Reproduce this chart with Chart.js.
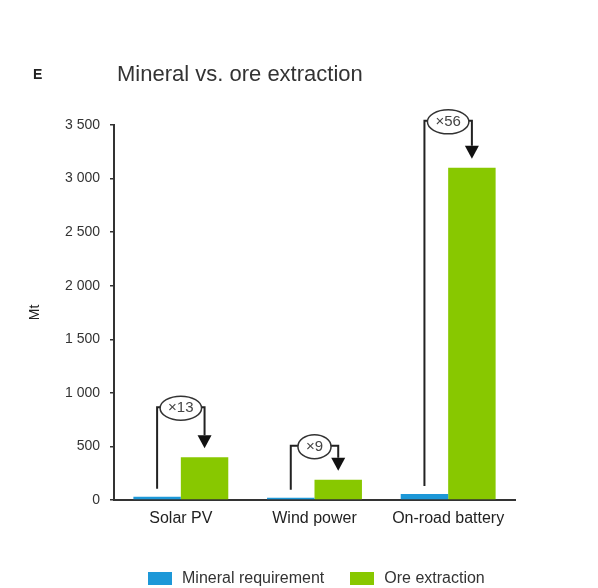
<!DOCTYPE html>
<html lang="en">
<head>
  <meta charset="UTF-8" />
  <title>Mineral vs. ore extraction</title>
  <script src="https://cdn.jsdelivr.net/npm/chart.js"></script>
  <style>
    html, body {
      margin: 0;
      padding: 0;
      background: #fff;
    }
    .wrap {
      position: relative;
      width: 598px;
      height: 588px;
      font-family: "Liberation Sans", Arial, sans-serif;
      color: #222;
    }
    .panel {
      position: absolute;
      left: 33px;
      top: 66px;
      font-size: 14px;
      font-weight: bold;
    }
    .title {
      position: absolute;
      left: 117px;
      top: 61px;
      font-size: 22px;
      color: #333;
    }
    .legend {
      position: absolute;
      top: 569px;
      left: 148px;
      display: flex;
      align-items: center;
      font-size: 16px;
      color: #333;
    }
    .legend span.box {
      display: inline-block;
      width: 24px;
      height: 13px;
      margin-right: 10px;
    }
    .legend .item {
      display: flex;
      align-items: center;
      margin-right: 26px;
    }
    canvas { position: absolute; left: 0; top: 0; }
  </style>
</head>
<body>
  <div class="wrap">
    <canvas id="oreChart" width="598" height="588"></canvas>
    <div class="panel">E</div>
    <div class="title">Mineral vs. ore extraction</div>
    <div class="legend" id="legend"></div>
  </div>
  <script>
    // data (Mt)
    const categories = ['Solar PV', 'Wind power', 'On-road battery'];
    const mineralRequirement = [30, 21, 55];
    const oreExtraction = [400, 190, 3100];
    const multipliers = ['×13', '×9', '×56'];
    const yTicks = [0, 500, 1000, 1500, 2000, 2500, 3000, 3500];

    const seriesNames = ['Mineral requirement', 'Ore extraction'];
    const seriesColors = ['#1d98d8', '#88c800'];

    function fmt(v) {
      if (v < 1000) return String(v);
      return Math.floor(v / 1000) + ' ' + String(v % 1000).padStart(3, '0');
    }

    // bracket + arrow from mineral bar to ore bar
    const bracketPlugin = {
      id: 'brackets',
      afterDatasetsDraw(chart, args, opts) {
        const ctx = chart.ctx;
        const m0 = chart.getDatasetMeta(0).data;
        const m1 = chart.getDatasetMeta(1).data;
        ctx.save();
        ctx.font = '15px "Liberation Sans", Arial, sans-serif';
        m0.forEach((b0, i) => {
          const b1 = m1[i];
          const x0 = b0.x, x1 = b1.x;
          const yTop = b1.y - opts.gap[i];
          const tip = b1.y - 9;
          const head = 13;
          ctx.strokeStyle = '#222';
          ctx.lineWidth = 2;
          ctx.beginPath();
          ctx.moveTo(x0, b0.y - 8);
          ctx.lineTo(x0, yTop);
          ctx.lineTo(x1, yTop);
          ctx.lineTo(x1, tip - head);
          ctx.stroke();
          ctx.fillStyle = '#111';
          ctx.beginPath();
          ctx.moveTo(x1 - 7, tip - head);
          ctx.lineTo(x1 + 7, tip - head);
          ctx.lineTo(x1, tip);
          ctx.closePath();
          ctx.fill();

          const label = multipliers[i];
          const tw = ctx.measureText(label).width;
          const cx = (x0 + x1) / 2;
          ctx.beginPath();
          ctx.ellipse(cx, yTop + 1, tw / 2 + 8, 12, 0, 0, Math.PI * 2);
          ctx.fillStyle = '#fff';
          ctx.fill();
          ctx.lineWidth = 1.5;
          ctx.strokeStyle = '#333';
          ctx.stroke();
          ctx.fillStyle = '#444';
          ctx.textAlign = 'center';
          ctx.textBaseline = 'middle';
          ctx.fillText(label, cx, yTop + 1);
        });
        ctx.restore();
      }
    };

    new Chart(document.getElementById('oreChart'), {
      type: 'bar',
      data: {
        labels: categories,
        datasets: [
          { label: seriesNames[0], data: mineralRequirement, backgroundColor: seriesColors[0] },
          { label: seriesNames[1], data: oreExtraction, backgroundColor: seriesColors[1] }
        ]
      },
      options: {
        responsive: false,
        animation: false,
        devicePixelRatio: 1,
        layout: { padding: { top: 125, right: 83, left: 0, bottom: 0 } },
        datasets: { bar: { barPercentage: 1, categoryPercentage: 0.71 } },
        plugins: {
          legend: { display: false },
          tooltip: { enabled: false },
          brackets: { gap: [50, 34, 47] }
        },
        scales: {
          x: {
            grid: { display: false },
            border: { display: true, color: '#333', width: 2 },
            ticks: { color: '#222', font: { size: 16, family: '"Liberation Sans", Arial' }, padding: 1 },
            afterFit: s => { s.height = 88; }
          },
          y: {
            min: 0,
            max: 3500,
            afterBuildTicks: s => { s.ticks = yTicks.map(v => ({ value: v })); },
            grid: { drawOnChartArea: false, drawTicks: true, tickLength: 4, color: '#333', lineWidth: 1.5 },
            border: { display: true, color: '#333', width: 2 },
            ticks: {
              color: '#333',
              padding: 10,
              font: { size: 14, family: '"Liberation Sans", Arial' },
              callback: v => fmt(v)
            },
            title: {
              display: true,
              text: 'Mt',
              color: '#222',
              font: { size: 14, family: '"Liberation Sans", Arial' },
              padding: { top: 27, bottom: 0 }
            },
            afterFit: s => { s.width = 114; }
          }
        }
      },
      plugins: [bracketPlugin]
    });

    // legend
    const legendEl = document.getElementById('legend');
    seriesNames.forEach((name, i) => {
      const item = document.createElement('div');
      item.className = 'item';
      item.innerHTML = `<span class="box" style="background:${seriesColors[i]}"></span>${name}`;
      legendEl.appendChild(item);
    });
  </script>
</body>
</html>
